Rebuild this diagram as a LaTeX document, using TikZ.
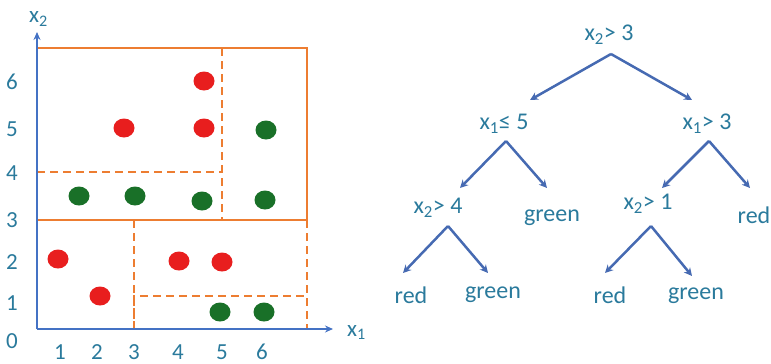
\documentclass[tikz,border=0pt]{standalone}
\usepackage{fontspec}
\setmainfont{Carlito}
\usetikzlibrary{arrows.meta,shapes.geometric}
\definecolor{axblue}{RGB}{68,114,196}
\definecolor{orng}{RGB}{237,125,49}
\definecolor{txt}{RGB}{42,122,156}
\definecolor{arrblue}{RGB}{70,106,178}
\definecolor{dotred}{RGB}{232,30,30}
\definecolor{dotgreen}{RGB}{25,112,40}
\tikzset{
  axis/.style={draw=axblue, line width=2.5pt, -{Stealth[length=8pt,width=7pt]}},
  solidpart/.style={draw=orng, line width=2.5pt},
  dashpart/.style={draw=orng, line width=2.5pt, dash pattern=on 8pt off 5pt},
  reddot/.style={ellipse, fill=dotred, minimum width=21pt, minimum height=19pt, inner sep=0pt},
  greendot/.style={ellipse, fill=dotgreen, minimum width=21pt, minimum height=19pt, inner sep=0pt},
  tick/.style={text=txt, font=\fontsize{23}{26}\selectfont, inner sep=0pt},
  tnode/.style={text=txt, font=\fontsize{24}{28}\selectfont, inner sep=0pt},
  tarr/.style={draw=arrblue, line width=2.5pt, -{Stealth[length=8pt,width=8pt]}},
}
\begin{document}
\begin{tikzpicture}[x=1pt,y=-1pt]
\useasboundingbox (0,0) rectangle (771,364);
% axes
\coordinate (O) at (37,329);
\coordinate (ytip) at (37,32);
\coordinate (xtip) at (333,329);
% partitions
\draw[solidpart] (37,48) -- (307,48) -- (307,220);
\draw[solidpart] (37,220) -- (307,220);
\draw[dashpart] (307,220) -- (307,329);
\draw[dashpart] (222,48) -- (222,220);
\draw[dashpart] (37,172) -- (222,172);
\draw[dashpart] (134,220) -- (134,329);
\draw[dashpart] (134,329) -- (134,296) -- (307,296);
\draw[axis] (O) -- (ytip);
\draw[axis] (O) -- (xtip);
% axis labels
\node[tick, anchor=base west] (lx2) at (29,23) {x\textsubscript{2}};
\node[tick, anchor=base west] (lx1) at (347,336) {x\textsubscript{1}};
% y ticks
\node[tick] (y6) at (12,82) {6};
\node[tick] (y5) at (12,129) {5};
\node[tick] (y4) at (12,173) {4};
\node[tick] (y3) at (12,220) {3};
\node[tick] (y2) at (12,262) {2};
\node[tick] (y1) at (12,303) {1};
\node[tick] (y0) at (12,341) {0};
% x ticks
\node[tick] (x1) at (60,352) {1};
\node[tick] (x2) at (97,352) {2};
\node[tick] (x3) at (134,352) {3};
\node[tick] (x4) at (178,352) {4};
\node[tick] (x5) at (222,352) {5};
\node[tick] (x6) at (262,352) {6};
% dots
\node[reddot] (r1) at (204,81) {};
\node[reddot] (r2) at (124,128) {};
\node[reddot] (r3) at (204,128) {};
\node[reddot] (r4) at (58,259) {};
\node[reddot] (r5) at (100,296) {};
\node[reddot] (r6) at (179,261) {};
\node[reddot] (r7) at (222,262) {};
\node[greendot] (g1) at (266,130) {};
\node[greendot] (g2) at (79,196) {};
\node[greendot] (g3) at (135,196) {};
\node[greendot] (g4) at (202,201) {};
\node[greendot] (g5) at (265,200) {};
\node[greendot] (g6) at (220,312) {};
\node[greendot] (g7) at (264,312) {};
% tree
\node[tnode] (root) at (609,35) {x\textsubscript{2}> 3};
\node[tnode] (L) at (504,124) {x\textsubscript{1}≤ 5};
\node[tnode] (R) at (707,124) {x\textsubscript{1}> 3};
\node[tnode] (LL) at (438,208) {x\textsubscript{2}> 4};
\node[tnode] (LR) at (552,218) {green};
\node[tnode] (RL) at (648,204) {x\textsubscript{2}> 1};
\node[tnode] (RR) at (754,215) {red};
\node[tnode] (LLL) at (411,295) {red};
\node[tnode] (LLR) at (493,295) {green};
\node[tnode] (RLL) at (610,295) {red};
\node[tnode] (RLR) at (696,296) {green};
\coordinate (aroot) at (611,54);
\coordinate (aL) at (506,141);
\coordinate (aR) at (709,141);
\coordinate (aLL) at (448,226);
\coordinate (aRL) at (651,226);
\coordinate (tL) at (530,100);
\coordinate (tR) at (692,100);
\coordinate (tLL) at (460,188);
\coordinate (tLR) at (547,188);
\coordinate (tRL) at (662,188);
\coordinate (tRR) at (750,188);
\coordinate (tLLL) at (403,273);
\coordinate (tLLR) at (488,273);
\coordinate (tRLL) at (605,273);
\coordinate (tRLR) at (692,276);
\draw[tarr] (aroot) -- (tL);
\draw[tarr] (aroot) -- (tR);
\draw[tarr] (aL) -- (tLL);
\draw[tarr] (aL) -- (tLR);
\draw[tarr] (aR) -- (tRL);
\draw[tarr] (aR) -- (tRR);
\draw[tarr] (aLL) -- (tLLL);
\draw[tarr] (aLL) -- (tLLR);
\draw[tarr] (aRL) -- (tRLL);
\draw[tarr] (aRL) -- (tRLR);
\end{tikzpicture}
\end{document}
